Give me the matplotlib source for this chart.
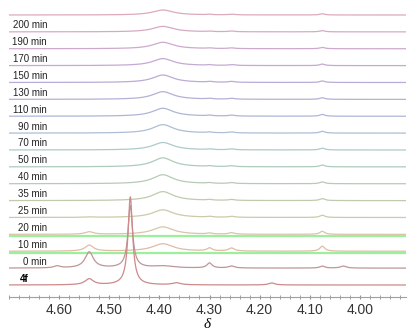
import numpy as np
import matplotlib.pyplot as plt
from matplotlib.ticker import MultipleLocator

# трасы сверху вниз
labels = ['', '200 min', '190 min', '170 min', '150 min', '130 min', '110 min',
          '90 min', '70 min', '50 min', '40 min', '35 min', '25 min', '20 min',
          '10 min', '0 min', '4f']
colors = ['#dcaabc', '#d6aac6', '#cdaacd', '#c4a9d4', '#bcabd6', '#b4b0d6',
          '#aeb6d6', '#acbfd4', '#adcbc8', '#afcbbc', '#b6cbb4', '#bfcbad',
          '#cccaa8', '#dac4a8', '#e0bba6', '#bf9696', '#cc8a8a']

# положения пиков (δ) и их ширины
shifts = [4.604, 4.540, 4.458, 4.393, 4.366, 4.300, 4.256, 4.176, 4.075, 4.033]
fwhm = [0.015, 0.02, 0.011, 0.05, 0.02, 0.012, 0.014, 0.015, 0.012, 0.014]

# высоты пиков для каждой трассы (в пикселях)
heights = [
    [0, 0, 0, 5.0, 0, 0.5, 0.7, 0, 1.2, 0],
    [0, 0, 0, 5.5, 0, 0.5, 0.7, 0, 1.2, 0],
    [0, 0, 0, 6.5, 0, 0.5, 0.7, 0, 1.3, 0],
    [0, 0, 0, 7.0, 0, 0.6, 0.8, 0, 1.5, 0],
    [0, 0, 0, 7.5, 0, 0.7, 0.9, 0, 1.5, 0],
    [0, 0, 0, 7.7, 0, 0.7, 0.9, 0, 1.6, 0],
    [0, 0, 0, 8.0, 0, 0.7, 0.9, 0, 1.8, 0],
    [0, 0, 0, 8.5, 0, 0.7, 0.9, 0, 1.8, 0],
    [0, 0, 0, 7.5, 0, 0.7, 0.9, 0, 1.8, 0],
    [0, 0, 0, 9.0, 0, 0.7, 0.9, 0, 1.8, 0],
    [0, 0, 0, 9.0, 0, 0.7, 0.9, 0, 1.8, 0],
    [0, 0, 0, 9.0, 0, 0.7, 0.9, 0, 2.0, 0],
    [0, 0.5, 0, 7.7, 0, 0.8, 1.0, 0, 2.2, 0],
    [0, 2.5, 0, 7.5, 0, 1.0, 1.5, 0, 3.0, 0],
    [0, 6.0, 0, 7.5, 0, 3.0, 3.0, 0, 5.0, 0],
    [2.0, 16.0, 62.0, 2.0, 0, 5.0, 2.0, 0, 2.0, 2.0],
    [0, 6.0, 88.0, 0, 2.0, 0, 0, 2.0, 0, 0],
]

highlighted = ['20 min', '10 min']
ticks = [4.60, 4.50, 4.40, 4.30, 4.20, 4.10, 4.00]

fig = plt.figure(figsize=(4.14, 3.36), dpi=100)
ax = fig.add_axes([9/414, 39/336, 397/414, 297/336])

x = np.linspace(4.70, 3.908, 3000)
n = len(labels)
step = 16.875
for i, (lab, col, h) in enumerate(zip(labels, colors, heights)):
    base = 12 + (n - 1 - i) * step
    y = np.full_like(x, base)
    for c, w, hk in zip(shifts, fwhm, h):
        g = w / 2
        y += hk * g**2 / ((x - c)**2 + g**2)
    ax.plot(x, y, color=col, lw=0.9, zorder=3 + i)
    if lab in highlighted:
        ax.axhline(base - 2, color='#9cf09c', lw=1.6, zorder=2)
    if lab == '4f':
        ax.text(0.028, base + 6.5, lab, transform=ax.get_yaxis_transform(),
                fontsize=7, fontweight='bold', family='Liberation Sans',
                ha='left', va='center', zorder=30)
    elif lab:
        ax.text(0.096, base + 6.5, lab, transform=ax.get_yaxis_transform(),
                fontsize=7, family='Liberation Sans', color='#222222',
                ha='right', va='center', zorder=30)

ax.set_xlim(4.70, 3.908)
ax.set_ylim(0, 297)
for s in ['left', 'right', 'top']:
    ax.spines[s].set_visible(False)
ax.spines['bottom'].set_color('#a0a0a0')
ax.spines['bottom'].set_linewidth(0.8)
ax.set_yticks([])
ax.set_xticks(ticks)
ax.set_xticklabels(['%.2f' % t for t in ticks], family='Liberation Sans')
ax.xaxis.set_minor_locator(MultipleLocator(0.02))
ax.tick_params(axis='x', which='both', direction='inout', length=2.5,
               color='#909090', labelsize=10, labelcolor='#333333', pad=3)
ax.set_xlabel('δ', family='Liberation Serif', style='italic', fontsize=11,
              labelpad=1)

fig.savefig('out.png', dpi=100)
